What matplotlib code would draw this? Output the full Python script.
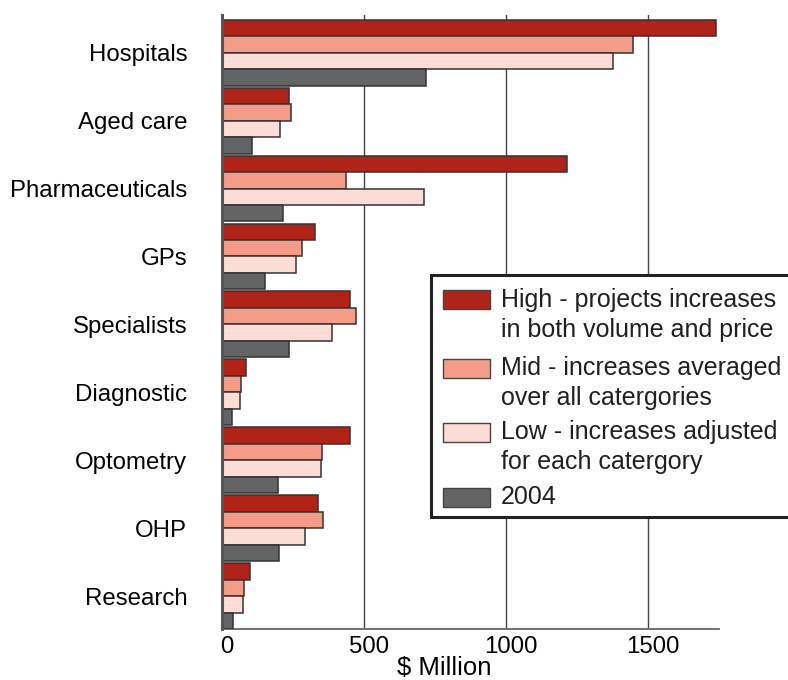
import numpy as np
import matplotlib
matplotlib.use('Agg')
import matplotlib.pyplot as plt
import matplotlib.transforms as mtransforms
from matplotlib.patches import Rectangle

plt.rcParams['font.family'] = ['Liberation Sans', 'DejaVu Sans']
plt.rcParams['text.color'] = '#231f20'

categories = ['Hospitals', 'Aged care', 'Pharmaceuticals', 'GPs', 'Specialists',
              'Diagnostic', 'Optometry', 'OHP', 'Research']
high = [1740, 237, 1215, 326, 451, 86, 451, 339, 97]
mid = [1448, 244, 437, 280, 472, 67, 352, 356, 76]
low = [1378, 203, 710, 261, 389, 65, 350, 292, 74]
base_2004 = [717, 106, 216, 152, 236, 36, 196, 201, 38]

series = [high, mid, low, base_2004]
colors = ['#b02318', '#f59c88', '#fcdcd5', '#636466']
labels = ['High - projects increases\nin both volume and price',
          'Mid - increases averaged\nover all catergories',
          'Low - increases adjusted\nfor each catergory',
          '2004']
xticks = [0, 500, 1000, 1500]

W, H = 788, 680
fig = plt.figure(figsize=(W / 100, H / 100), dpi=100)
ax = fig.add_axes([222 / W, 51 / H, 497 / W, 614 / H])

y = np.arange(len(categories))
h = 0.2425
for i, vals in enumerate(series):
    ax.barh(y + (i - 1.5) * h, vals, height=h, color=colors[i],
            edgecolor='#333333', linewidth=1.1, zorder=3)

ax.set_xlim(0, 1750)
ax.set_ylim(8.485, -0.555)

ax.set_yticks(y)
ax.set_yticklabels(categories, fontsize=17.3)
ax.set_xticks(xticks)
ax.set_xticklabels([str(t) for t in xticks], fontsize=17.3)
ax.tick_params(axis='y', length=0, pad=25)
ax.tick_params(axis='x', length=0, pad=5)
# tick numbers sit a little right of their grid lines in the original
shift = mtransforms.ScaledTranslation(5 / 100, 0, fig.dpi_scale_trans)
for lab in ax.get_xticklabels():
    lab.set_transform(lab.get_transform() + shift)

for t in xticks[1:]:
    ax.axvline(t, color='#444444', linewidth=1, zorder=1)

for s in ['top', 'right']:
    ax.spines[s].set_visible(False)
ax.spines['left'].set_color('#555555')
ax.spines['left'].set_linewidth(2.2)
ax.spines['bottom'].set_color('#666666')
ax.spines['bottom'].set_linewidth(1.3)
ax.spines['left'].set_zorder(4)

ax.set_xlabel('$ Million', fontsize=18.5)
ax.xaxis.set_label_coords(0.447, -0.044)

# legend drawn by hand so the swatch lines up with the first text line
def fx(px):
    return px / W

def fy(py):
    return 1 - py / H

fig.add_artist(Rectangle((fx(431), fy(517)), fx(800) - fx(431), fy(275) - fy(517),
                         transform=fig.transFigure, facecolor='white',
                         edgecolor='#222222', linewidth=2.2, zorder=5))
rows = [300, 368, 432, 497]
for col, lab, yc in zip(colors, labels, rows):
    fig.add_artist(Rectangle((fx(443), fy(yc + 9.5)), fx(490) - fx(443), 19 / H,
                             transform=fig.transFigure, facecolor=col,
                             edgecolor='#444444', linewidth=1, zorder=6))
    for k, line in enumerate(lab.split('\n')):
        fig.text(fx(501), fy(yc + k * 30), line, fontsize=18,
                 va='center', ha='left', zorder=7)

fig.savefig('out.png', dpi=100)
